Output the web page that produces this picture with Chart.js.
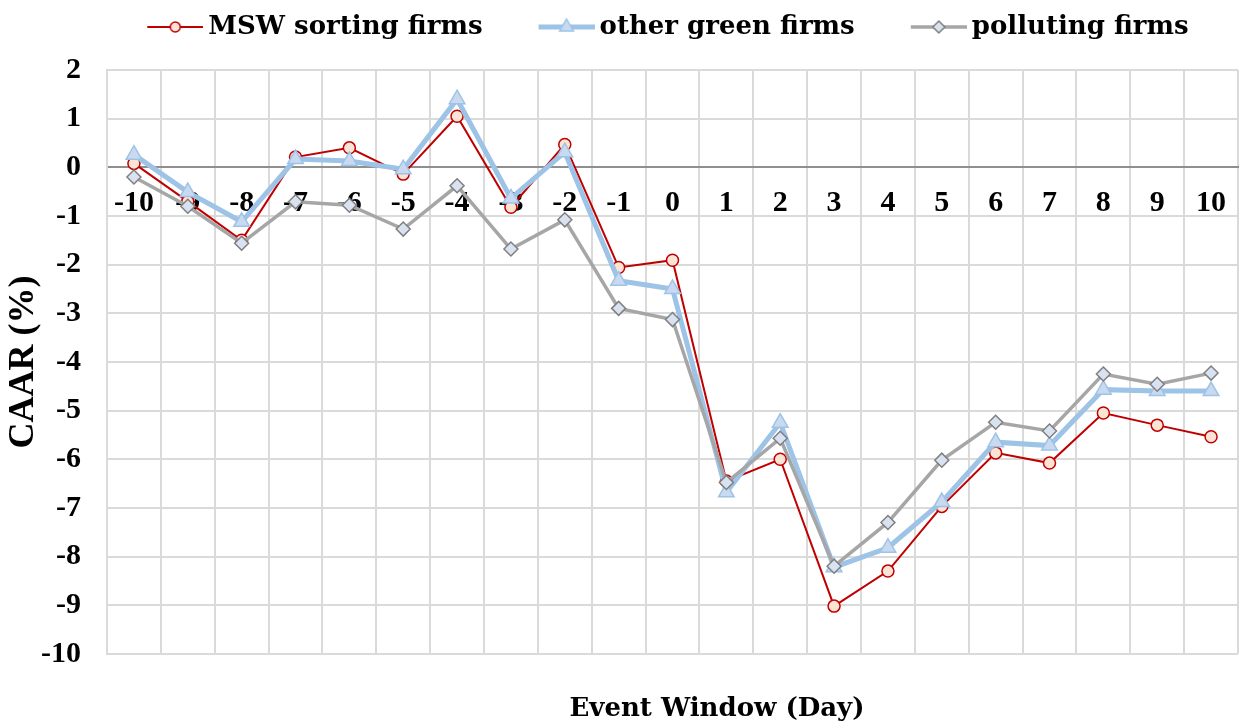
<!DOCTYPE html>
<html>
<head>
<meta charset="utf-8">
<script src="https://cdn.jsdelivr.net/npm/chart.js@4/dist/chart.umd.min.js"></script>
<style>
html,body{margin:0;padding:0;background:#fff;}
canvas{display:block;}
</style>
</head>
<body>
<canvas id="c" width="1240" height="727"></canvas>
<script>
// ---- data ----
const days = ['-10','-9','-8','-7','-6','-5','-4','-3','-2','-1','0','1','2','3','4','5','6','7','8','9','10'];
const mswSorting = [0.08,-0.70,-1.50,0.21,0.40,-0.14,1.05,-0.82,0.47,-2.06,-1.91,-6.45,-6.00,-9.02,-8.30,-6.97,-5.87,-6.08,-5.05,-5.30,-5.54];
const otherGreen = [0.26,-0.51,-1.12,0.17,0.13,-0.04,1.40,-0.64,0.31,-2.33,-2.50,-6.68,-5.25,-8.22,-7.82,-6.88,-5.65,-5.72,-4.57,-4.60,-4.60];
const polluting  = [-0.20,-0.80,-1.56,-0.71,-0.78,-1.27,-0.38,-1.68,-1.08,-2.90,-3.13,-6.48,-5.57,-8.20,-7.30,-6.02,-5.24,-5.42,-4.25,-4.46,-4.23];
const seriesNames = ['MSW sorting firms','other green firms','polluting firms'];
const yTitle = 'CAAR (%)';
const xTitle = 'Event Window (Day)';

// ---- legend icons (line + marker) ----
const BOX = 90;
function makeIcon(lineColor, lineW, shape, r, fill, stroke, sw){
  const W = BOX + 16, H = 24;
  const cv = document.createElement('canvas');
  cv.width = W; cv.height = H;
  const c = cv.getContext('2d');
  const x0 = W - 56, cy = H/2, cx = W - 28;
  c.strokeStyle = lineColor; c.lineWidth = lineW;
  c.beginPath(); c.moveTo(x0, cy); c.lineTo(W, cy); c.stroke();
  c.beginPath();
  if (shape === 'circle') { c.arc(cx, cy, r, 0, Math.PI*2); }
  else if (shape === 'triangle') {
    c.moveTo(cx, cy - r); c.lineTo(cx + r*0.866, cy + r*0.5); c.lineTo(cx - r*0.866, cy + r*0.5); c.closePath();
  } else {
    c.moveTo(cx - r, cy); c.lineTo(cx, cy - r); c.lineTo(cx + r, cy); c.lineTo(cx, cy + r); c.closePath();
  }
  c.fillStyle = fill; c.fill();
  c.strokeStyle = stroke; c.lineWidth = sw; c.stroke();
  return cv;
}
const icons = [
  makeIcon('#c00000', 2, 'circle', 5, '#fbe3d6', '#c00000', 1.5),
  makeIcon('#9dc3e6', 5, 'triangle', 8, '#c9daf0', '#9dc3e6', 1.5),
  makeIcon('#a6a6a6', 3.5, 'diamond', 6, '#d9e2f1', '#7f7f7f', 1.5)
];

const shiftPlugin = {
  id: 'shiftBoxes',
  afterLayout(chart){
    const lg = chart.legend;
    if (lg){ lg.left += 28; lg.right += 28; lg.top -= 20; lg.bottom -= 20; }
    const tb = chart.titleBlock;
    if (tb){ tb.left += 98; tb.right += 98; }
  }
};

const tickFont = {family: 'Liberation Serif, "Times New Roman", serif', size: 30, weight: 'bold'};

new Chart(document.getElementById('c'), {
  type: 'line',
  data: {
    labels: days,
    datasets: [
      {label: seriesNames[0], data: mswSorting, order: 3,
       borderColor: '#c00000', borderWidth: 2, tension: 0,
       pointStyle: 'circle', pointRadius: 6, pointBackgroundColor: '#fbe3d6',
       pointBorderColor: '#c00000', pointBorderWidth: 1.5},
      {label: seriesNames[1], data: otherGreen, order: 2,
       borderColor: '#9dc3e6', borderWidth: 5, tension: 0,
       pointStyle: 'triangle', pointRadius: 9, pointBackgroundColor: '#c9daf0',
       pointBorderColor: '#9dc3e6', pointBorderWidth: 1.5},
      {label: seriesNames[2], data: polluting, order: 1,
       borderColor: '#a6a6a6', borderWidth: 3.5, tension: 0,
       pointStyle: 'rectRot', pointRadius: 7, pointBackgroundColor: '#d9e2f1',
       pointBorderColor: '#7f7f7f', pointBorderWidth: 1.5}
    ]
  },
  options: {
    responsive: false,
    animation: false,
    layout: {autoPadding: false, padding: {top: 20, right: 2, left: 0, bottom: 0}},
    plugins: {
      tooltip: {enabled: false},
      legend: {
        position: 'top',
        labels: {
          usePointStyle: true,
          pointStyleWidth: BOX,
          padding: 14,
          color: '#000',
          font: {family: '"DejaVu Serif", serif', size: 26, weight: 'bold'},
          generateLabels(chart){
            return chart.data.datasets.map((ds, i) => ({
              text: ds.label, datasetIndex: i, pointStyle: icons[i],
              fillStyle: ds.borderColor, strokeStyle: ds.borderColor,
              lineWidth: 0, hidden: false, fontColor: '#000'
            }));
          }
        }
      },
      title: {
        display: true,
        position: 'bottom',
        text: xTitle,
        color: '#000',
        font: {family: '"DejaVu Serif", serif', size: 26, weight: 'bold'},
        padding: {top: 40, bottom: 2}
      }
    },
    scales: {
      x: {
        type: 'category',
        position: {y: 0},
        offset: true,
        afterFit(s){ s.height = 0; },
        grid: {offset: true, color: '#dadada', lineWidth: 2, drawTicks: true, tickLength: 18, tickColor: 'rgba(0,0,0,0)'},
        border: {display: true, color: '#8f8f8f', width: 2},
        ticks: {color: '#000', font: tickFont, padding: 0, maxRotation: 0, autoSkip: false}
      },
      y: {
        min: -10, max: 2,
        afterFit(s){ s.width = 107; },
        grid: {
          color: ctx => (ctx.tick && ctx.tick.value === 0) ? '#8f8f8f' : '#dadada',
          lineWidth: 2, drawTicks: false
        },
        border: {display: true, color: '#dadada', width: 2},
        ticks: {stepSize: 1, color: '#000', font: tickFont, padding: 26},
        title: {
          display: true, text: yTitle, color: '#000',
          font: {family: 'Liberation Serif, "Times New Roman", serif', size: 36, weight: 'bold'},
          padding: {top: 2, bottom: 0}
        }
      }
    }
  },
  plugins: [shiftPlugin]
});
</script>
</body>
</html>
